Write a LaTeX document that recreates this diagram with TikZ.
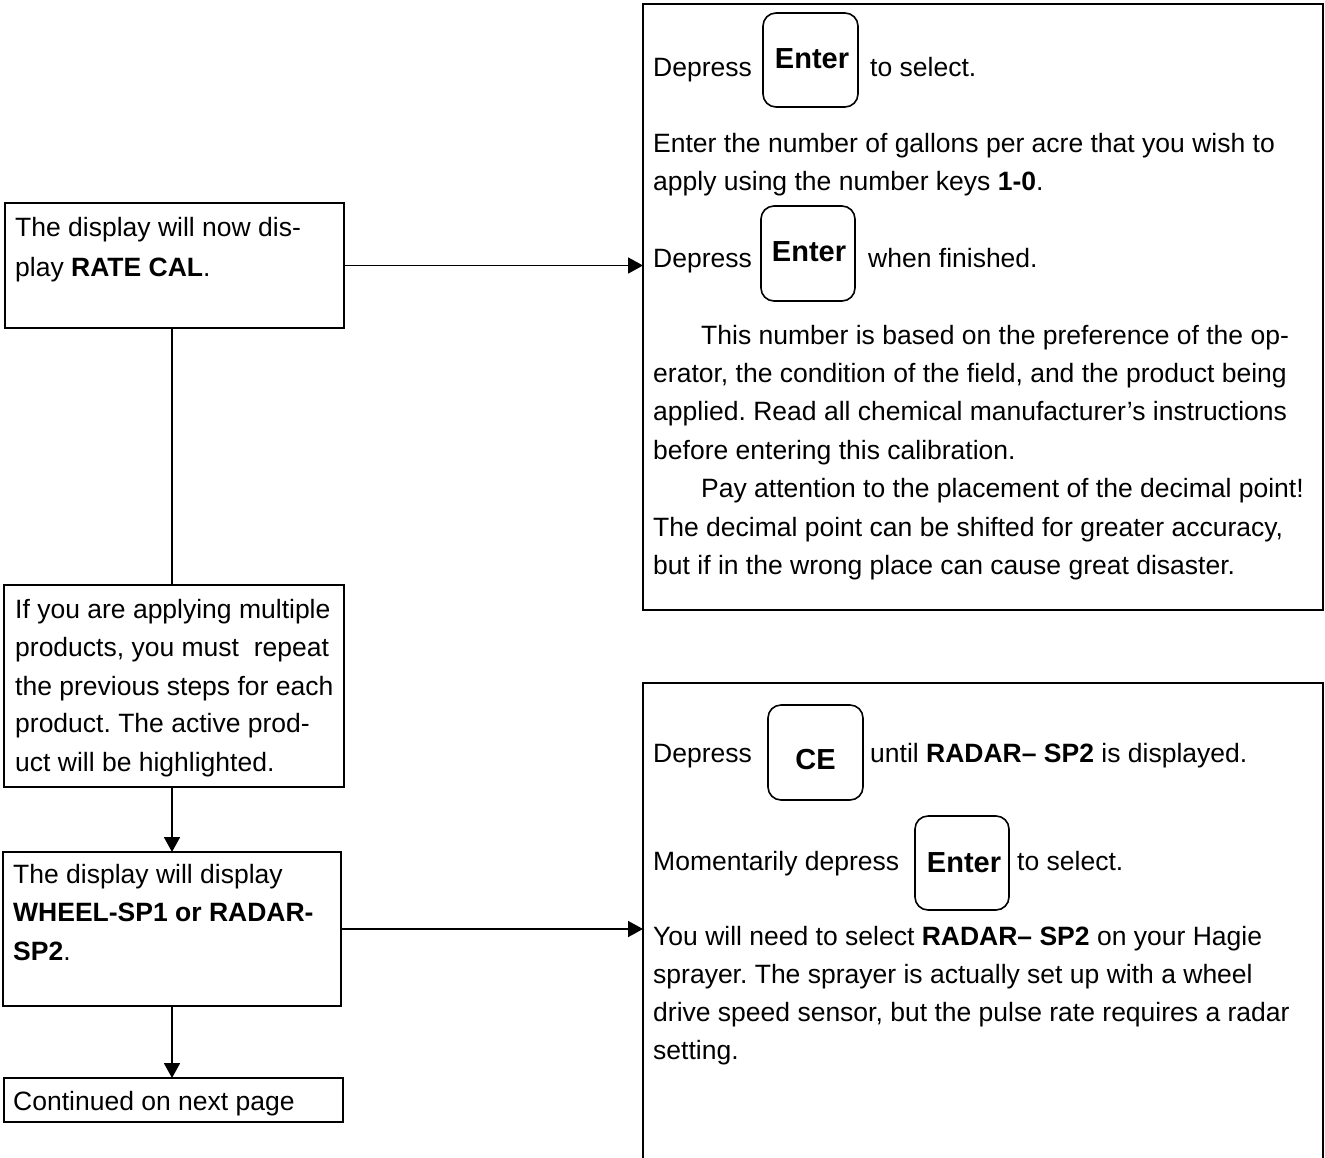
\documentclass[tikz,border=0pt]{standalone}
\usepackage{fontspec}
\setmainfont{Liberation Sans}
\usetikzlibrary{arrows.meta}
\frenchspacing
\begin{document}
\begin{tikzpicture}[x=1pt,y=-1pt,
  box/.style={draw,line width=1.8pt,anchor=north west,inner sep=0pt,outer sep=0pt},
  keybox/.style={draw,line width=1.6pt,rounded corners=13pt,anchor=north west,inner sep=0pt,outer sep=0pt},
  txt/.style={anchor=base west,inner sep=0pt,font=\fontsize{26.5}{38}\selectfont\frenchspacing},
  keytxt/.style={anchor=base,inner sep=0pt,font=\fontsize{29}{38}\selectfont\bfseries},
  conn/.style={line width=1.8pt},
  arr/.style={conn,-{Triangle[length=15pt,width=16pt]}}]
\useasboundingbox (0,0) rectangle (1325,1157);
\fill[white] (0,0) rectangle (1325,1157);

% left column boxes
\node[box,minimum width=339pt,minimum height=125pt] (b1) at (5,203) {};
\node[box,minimum width=340pt,minimum height=202pt] (b4) at (4.3,585) {};
\node[box,minimum width=338pt,minimum height=154pt] (b5) at (3,852) {};
\node[box,minimum width=339pt,minimum height=44pt] (b6) at (4,1078) {};

% right boxes
\node[box,minimum width=680pt,minimum height=606pt] (r1) at (643,4) {};
\node[box,minimum width=680pt,minimum height=540pt] (r2) at (643,683) {};

% keys
\node[keybox,minimum width=95pt,minimum height=94pt] (k1) at (763,13) {};
\node[keybox,minimum width=94pt,minimum height=95pt] (k2) at (761,206) {};
\node[keybox,minimum width=95pt,minimum height=95pt] (k3) at (768,705) {};
\node[keybox,minimum width=94pt,minimum height=94pt] (k4) at (915,816) {};
\node[keytxt] (k1t) at (812,68) {Enter};
\node[keytxt] (k2t) at (809,261) {Enter};
\node[keytxt] (k3t) at (815.5,769) {CE};
\node[keytxt] (k4t) at (964,872) {Enter};

% column coordinate
\coordinate (col) at (172,0);

% connectors
\draw[conn] (b1.south -| col) -- (b4.north -| col);
\draw[arr] (b4.south -| col) -- (b5.north -| col);
\draw[arr] (b5.south -| col) -- (b6.north -| col);
\draw[arr] (b1.east) -- (b1.east -| r1.west);
\draw[arr] (b5.east) -- (b5.east -| r2.west);

% box 1 text
\node[txt] (t11) at (15,236.5) {The display will now dis-};
\node[txt] (t12) at (15,276) {play \textbf{RATE CAL}.};

% box 4 text
\node[txt] (t41) at (15,618.3) {If you are applying multiple};
\node[txt] (t42) at (15,656.7) {products, you must~ repeat};
\node[txt] (t43) at (15,695) {the previous steps for each};
\node[txt] (t44) at (15,732.7) {product. The active prod-};
\node[txt] (t45) at (15,771) {uct will be highlighted.};

% box 5 text
\node[txt] (t51) at (13,883.3) {The display will display};
\node[txt] (t52) at (13,921.5) {\textbf{WHEEL-SP1 or RADAR-}};
\node[txt] (t53) at (13,960) {\textbf{SP2}.};

% box 6 text
\node[txt] (t61) at (13,1110) {Continued on next page};

% right box 1 text
\node[txt] (r11) at (653,76) {Depress};
\node[txt] (r12) at (870,76) {to select.};
\node[txt] (r13) at (653,152) {Enter the number of gallons per acre that you wish to};
\node[txt] (r14) at (653,190) {apply using the number keys \textbf{1-0}.};
\node[txt] (r15) at (653,267) {Depress};
\node[txt] (r16) at (868,267) {when finished.};
\node[txt] (r17) at (701,344) {This number is based on the preference of the op-};
\node[txt] (r18) at (653,382.7) {erator, the condition of the field, and the product being};
\node[txt] (r19) at (653,420.7) {applied. Read all chemical manufacturer’s instructions};
\node[txt] (r110) at (653,459.3) {before entering this calibration.};
\node[txt] (r111) at (701,497.3) {Pay attention to the placement of the decimal point!};
\node[txt] (r112) at (653,536) {The decimal point can be shifted for greater accuracy,};
\node[txt] (r113) at (653,574) {but if in the wrong place can cause great disaster.};

% right box 2 text
\node[txt] (r21) at (653,762) {Depress};
\node[txt] (r22) at (870,762) {until \textbf{RADAR– SP2} is displayed.};
\node[txt] (r23) at (653,870) {Momentarily depress};
\node[txt] (r24) at (1017,870) {to select.};
\node[txt] (r25) at (653,945) {You will need to select \textbf{RADAR– SP2} on your Hagie};
\node[txt] (r26) at (653,983) {sprayer. The sprayer is actually set up with a wheel};
\node[txt] (r27) at (653,1021.7) {drive speed sensor, but the pulse rate requires a radar};
\node[txt] (r28) at (653,1059.7) {setting.};
\end{tikzpicture}
\end{document}
